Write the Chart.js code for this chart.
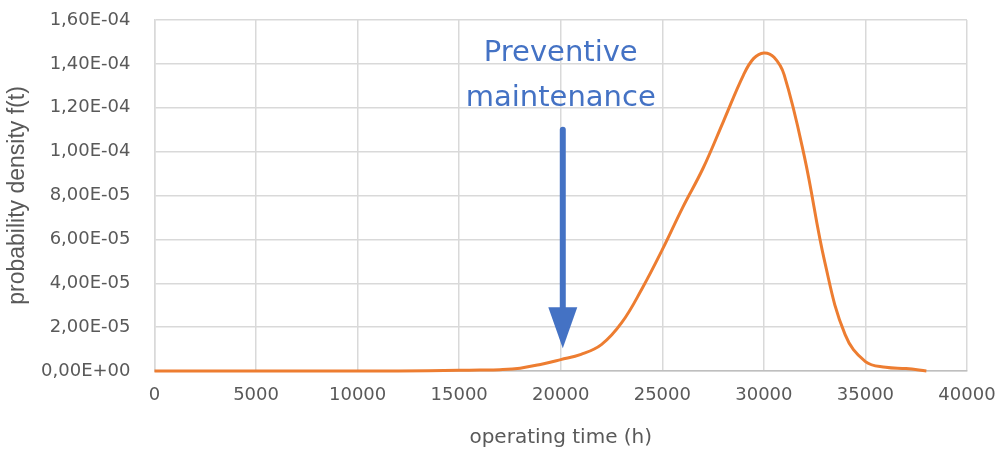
<!DOCTYPE html>
<html>
<head>
<meta charset="utf-8">
<script src="https://cdn.jsdelivr.net/npm/chart.js@4.4.1/dist/chart.umd.min.js"></script>
<style>
  html, body { margin: 0; padding: 0; background: #ffffff; }
  #wrap { width: 1000px; height: 454px; }
</style>
</head>
<body>
<div id="wrap"><canvas id="c" width="1000" height="454"></canvas></div>
<script>
// operating time (h)
const times = [0, 5000, 10000, 12000, 15000, 16000, 17000, 18000, 19000, 20000, 21000, 22000, 23000, 24000, 25000, 26000, 27000, 28000, 29000, 29500, 30000, 30500, 31000, 32000, 33000, 34000, 35000, 36000, 37000, 38000];
// probability density f(t)
const density = [0, 0, 0, 0, 3e-7, 4e-7, 6e-7, 1.3e-6, 3.0e-6, 5.2e-6, 7.6e-6, 1.2e-5, 2.2e-5, 3.75e-5, 5.53e-5, 7.45e-5, 9.23e-5, 1.136e-4, 1.35e-4, 1.425e-4, 1.45e-4, 1.43e-4, 1.35e-4, 9.75e-5, 4.96e-5, 1.66e-5, 4.3e-6, 1.7e-6, 1.1e-6, 0];
const xTicks = [0, 5000, 10000, 15000, 20000, 25000, 30000, 35000, 40000];
const yTicks = [0, 2e-5, 4e-5, 6e-5, 8e-5, 1e-4, 1.2e-4, 1.4e-4, 1.6e-4];
const annotationLines = ["Preventive", "maintenance"];
const arrowTime = 20100;
const arrowTop = 1.1e-4;
const arrowTip = 1.04e-5;

function fmtExp(v) {
  let s = Number(v).toExponential(2);
  let [m, e] = s.split('e');
  let sign = e[0] === '-' ? '-' : '+';
  let digits = e.replace(/[+-]/, '');
  if (digits.length < 2) digits = '0' + digits;
  return m.replace('.', ',') + 'E' + sign + digits;
}

const annotate = {
  id: 'annotate',
  afterDatasetsDraw(chart) {
    const ctx = chart.ctx;
    const xs = chart.scales.x, ys = chart.scales.y;
    const ca = chart.chartArea;
    const cx = (ca.left + ca.right) / 2;
    ctx.save();
    ctx.fillStyle = '#4472C4';
    ctx.font = '29px "DejaVu Sans"';
    ctx.textAlign = 'center';
    ctx.textBaseline = 'alphabetic';
    ctx.fillText(annotationLines[0], cx, 61);
    ctx.fillText(annotationLines[1], cx, 106);
    const ax = xs.getPixelForValue(arrowTime);
    const yTop = ys.getPixelForValue(arrowTop);
    const yTip = ys.getPixelForValue(arrowTip);
    const headLen = 41, headHalf = 14.5;
    ctx.strokeStyle = '#4472C4';
    ctx.lineWidth = 6;
    ctx.lineCap = 'round';
    ctx.beginPath();
    ctx.moveTo(ax, yTop);
    ctx.lineTo(ax, yTip - headLen + 2);
    ctx.stroke();
    ctx.beginPath();
    ctx.moveTo(ax - headHalf, yTip - headLen);
    ctx.lineTo(ax + headHalf, yTip - headLen);
    ctx.lineTo(ax, yTip);
    ctx.closePath();
    ctx.fill();
    ctx.restore();
  }
};

new Chart(document.getElementById('c'), {
  type: 'line',
  data: {
    datasets: [{
      data: times.map((t, i) => ({ x: t, y: density[i] })),
      borderColor: '#ED7D31',
      borderWidth: 3,
      pointRadius: 0,
      fill: false,
      tension: 0.4,
      clip: false
    }]
  },
  options: {
    responsive: false,
    animation: false,
    devicePixelRatio: 1,
    layout: { padding: { top: 20, right: 33, left: 0, bottom: 0 } },
    plugins: { legend: { display: false }, tooltip: { enabled: false } },
    scales: {
      x: {
        type: 'linear',
        min: 0, max: 40000,
        afterBuildTicks(scale) { scale.ticks = xTicks.map(v => ({ value: v })); },
        afterFit(scale) { scale.height = 83; scale.paddingLeft = 0; scale.paddingRight = 0; },
        grid: { color: '#d9d9d9', lineWidth: 1.5, drawTicks: false },
        border: { color: '#bfbfbf', width: 1.5 },
        ticks: { color: '#595959', font: { family: 'DejaVu Sans', size: 18 }, padding: 14, maxRotation: 0, callback: v => String(v) },
        title: { display: true, text: 'operating time (h)', color: '#595959', font: { family: 'DejaVu Sans', size: 20 }, padding: { top: 8 } }
      },
      y: {
        min: 0, max: 1.6e-4,
        afterBuildTicks(scale) { scale.ticks = yTicks.map(v => ({ value: v })); },
        afterFit(scale) { scale.width = 154.5; scale.paddingTop = 0; scale.paddingBottom = 0; },
        grid: { color: '#d9d9d9', lineWidth: 1.5, drawTicks: false },
        border: { color: '#d9d9d9', width: 1.5 },
        ticks: { color: '#595959', font: { family: 'DejaVu Sans', size: 18 }, padding: 24, callback: v => fmtExp(v) },
        title: { display: true, text: 'probability density f(t)', color: '#595959', font: { family: 'Liberation Sans', size: 23 }, padding: { bottom: 0 } }
      }
    }
  },
  plugins: [annotate]
});
</script>
</body>
</html>
